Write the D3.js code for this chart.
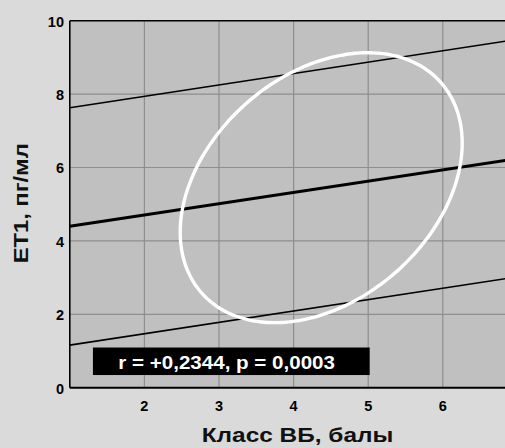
<!DOCTYPE html>
<html><head><meta charset="utf-8">
<script src="https://cdn.jsdelivr.net/npm/d3@7"></script>
<style>
html,body{margin:0;padding:0;background:#dadada;}
svg{display:block;}
text{font-family:"Liberation Sans",Arial,Helvetica,sans-serif;font-weight:bold;}
</style></head>
<body><svg id="c" width="505" height="448"></svg>
<script>
// ---- data ----
const xTicks = [2, 3, 4, 5, 6];
const yTicks = [0, 2, 4, 6, 8, 10];
const xDomain = [1, 7];
const yDomain = [0, 10];
// regression line and its band: values at x = 1 and x = 7
const lineX = [1, 7];
const upperY = [7.63, 9.49];
const fitY = [4.40, 6.24];
const lowerY = [1.16, 3.02];
// ellipse (data units): centre, half width, half height, coupling term
const ellCenter = [4.37, 5.45];
const ellHalfW = 1.89;
const ellXY = 1.214;
const ellYY = 3.472;
const statText = "r = +0,2344, p = 0,0003";
const xTitle = "Класс ВБ, балы";
const yTitle = "ET1, пг/мл";

// ---- drawing ----
const svg = d3.select("#c");
const W = 505, H = 448;
svg.append("rect").attr("width", W).attr("height", H).attr("fill", "#dadada");

const x = d3.scaleLinear().domain(xDomain).range([69.8, 69.8 + 6 * 74.6]);
const y = d3.scaleLinear().domain(yDomain).range([387.7, 20.7]);

// plot area
svg.append("rect")
  .attr("x", x(xDomain[0])).attr("y", y(yDomain[1]))
  .attr("width", W - x(xDomain[0]) + 10).attr("height", y(yDomain[0]) - y(yDomain[1]))
  .attr("fill", "#c0c0c0");

// grid
const g = svg.append("g").attr("stroke", "#8e8e8e").attr("stroke-width", 1.2);
g.selectAll("line.v").data(xTicks).join("line")
  .attr("x1", d => x(d)).attr("x2", d => x(d))
  .attr("y1", y(yDomain[1])).attr("y2", y(yDomain[0]));
g.selectAll("line.h").data(yTicks.filter(d => d > 0 && d < 10)).join("line")
  .attr("x1", x(xDomain[0])).attr("x2", W + 10)
  .attr("y1", d => y(d)).attr("y2", d => y(d));

// regression lines
const ln = d3.line().x(d => x(d[0])).y(d => y(d[1]));
const mk = ys => lineX.map((v, i) => [v, ys[i]]);
svg.append("path").attr("d", ln(mk(upperY))).attr("stroke", "#000").attr("stroke-width", 1.6).attr("fill", "none");
svg.append("path").attr("d", ln(mk(lowerY))).attr("stroke", "#000").attr("stroke-width", 1.6).attr("fill", "none");
svg.append("path").attr("d", ln(mk(fitY))).attr("stroke", "#000").attr("stroke-width", 3).attr("fill", "none");

// ellipse
const ellPts = d3.range(0, 360, 2).map(a => {
  const t = a * Math.PI / 180;
  return [ellCenter[0] + ellHalfW * Math.cos(t), ellCenter[1] + ellXY * Math.cos(t) + ellYY * Math.sin(t)];
});
svg.append("path")
  .attr("d", d3.line().x(d => x(d[0])).y(d => y(d[1])).curve(d3.curveCardinalClosed)(ellPts))
  .attr("fill", "none").attr("stroke", "#fff").attr("stroke-width", 3.4);

// stat box
svg.append("rect")
  .attr("x", x(1.31)).attr("y", y(1.095))
  .attr("width", x(5.02) - x(1.31)).attr("height", y(0.345) - y(1.095))
  .attr("fill", "#000");
svg.append("text").attr("x", 118.3).attr("y", 369.3)
  .attr("fill", "#fff").attr("font-size", 19)
  .attr("textLength", 216.7).attr("lengthAdjust", "spacingAndGlyphs")
  .text(statText);

// axes frame
svg.append("line").attr("x1", x(xDomain[0])).attr("x2", W + 5).attr("y1", y(10)).attr("y2", y(10))
  .attr("stroke", "#000").attr("stroke-width", 1.5);
svg.append("line").attr("x1", x(xDomain[0])).attr("x2", W + 5).attr("y1", y(0)).attr("y2", y(0))
  .attr("stroke", "#000").attr("stroke-width", 2);
svg.append("line").attr("x1", x(xDomain[0])).attr("x2", x(xDomain[0])).attr("y1", y(10)).attr("y2", y(0))
  .attr("stroke", "#000").attr("stroke-width", 1.6);

// tick labels
svg.append("g").selectAll("text").data(yTicks).join("text")
  .attr("x", 64).attr("y", d => y(d) + 5.8)
  .attr("text-anchor", "end").attr("font-size", 14.5).attr("fill", "#000")
  .text(d => d);
svg.append("g").selectAll("text").data(xTicks).join("text")
  .attr("x", d => x(d)).attr("y", 411)
  .attr("text-anchor", "middle").attr("font-size", 14.5).attr("fill", "#000")
  .text(d => d);

// titles
svg.append("text").attr("x", 297.5).attr("y", 441.7)
  .attr("text-anchor", "middle").attr("font-size", 21).attr("fill", "#111")
  .attr("textLength", 191.7).attr("lengthAdjust", "spacingAndGlyphs")
  .text(xTitle);
svg.append("text").attr("transform", "translate(27.7,203.3) rotate(-90)")
  .attr("text-anchor", "middle").attr("font-size", 21).attr("fill", "#111")
  .attr("textLength", 120).attr("lengthAdjust", "spacingAndGlyphs")
  .text(yTitle);
</script></body></html>
